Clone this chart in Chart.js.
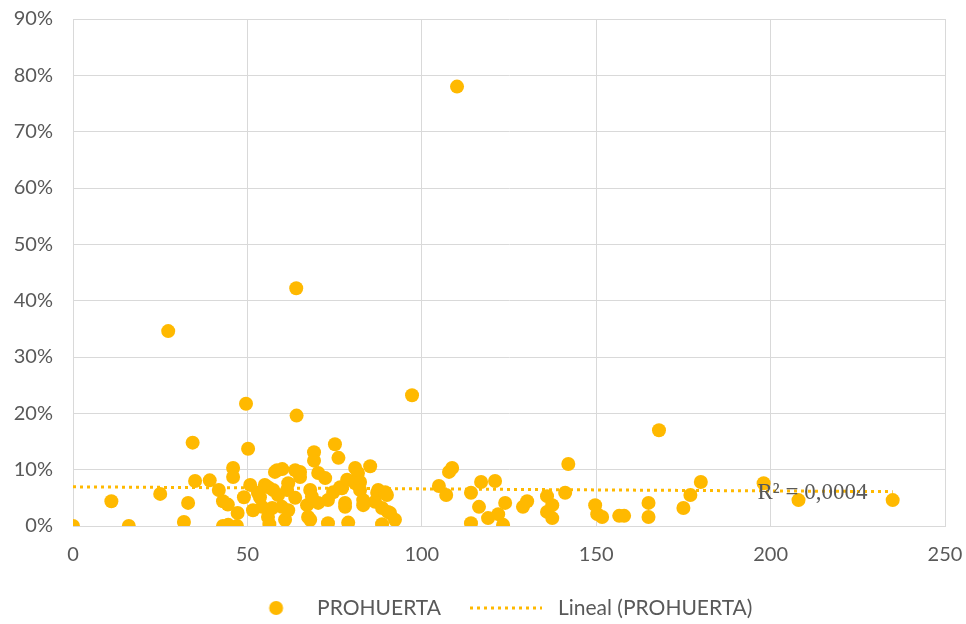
<!DOCTYPE html>
<html>
<head>
<meta charset="utf-8">
<script src="https://cdn.jsdelivr.net/npm/chart.js@4"></script>
<style>
  html, body { margin: 0; padding: 0; background: #fff; }
  #wrap { width: 966px; height: 624px; }
</style>
</head>
<body>
<div id="wrap"><canvas id="myChart"></canvas></div>
<script>
// PROHUERTA values (x, y in %)
var xs = [0, 11, 16, 25, 27.3, 31.8, 33, 34.3, 35, 39.2, 41.8, 43, 43, 44.5, 44.4, 45.9, 45.9, 47, 47.2,
  49.6, 50.2, 50.8, 49, 51.6, 53.6, 53, 54.2, 55, 55.9, 55.9, 56.3, 57.1, 57.4, 57.9, 58.5, 58.8, 59.9,
  60, 60.8, 61.4, 61.7, 61.7, 63.7, 63.7, 64, 64.1, 65.1, 65.1, 67.1, 67.4, 68, 68.5, 68, 69.1, 69.1,
  70.3, 70.3, 72.3, 73.1, 73.1, 74.6, 75.1, 76.1, 76.6, 77.1, 78, 78, 78.6, 78.9, 80.9, 80.9, 81.7,
  82.3, 82.3, 83.2, 83.2, 85.2, 86.6, 87.2, 87.5, 88.6, 88.6, 89.5, 90, 90.3, 90.9, 92.3, 97.2,
  104.9, 107, 107.8, 108.7, 110.1, 114.1, 114.1, 116.4, 117, 119, 121, 121.9, 123.3, 123.9, 129,
  130.2, 135.9, 135.9, 137.4, 137.4, 141.1, 142, 149.7, 150.3, 151.7, 156.6, 158, 165, 165, 168,
  175, 177, 180, 198, 208, 235];
var ys = [0, 4.4, 0, 5.7, 34.6, 0.7, 4.1, 14.8, 8.0, 8.1, 6.4, 4.4, 0, 0.2, 3.8, 10.3, 8.7, 0, 2.3,
  21.7, 13.7, 7.3, 5.1, 2.8, 5.1, 5.9, 3.4, 7.3, 6.9, 1.6, 0.3, 3.2, 6.4, 9.6, 9.9, 5.5, 3.4,
  10.1, 1.1, 6.4, 7.6, 2.8, 9.9, 5.0, 42.2, 19.6, 8.7, 9.6, 3.7, 1.6, 6.4, 5.2, 1.1, 13.1, 11.6,
  9.4, 4.1, 8.5, 4.6, 0.5, 6.0, 14.5, 12.1, 6.9, 6.7, 3.4, 4.1, 8.2, 0.6, 10.3, 7.6, 9.4,
  7.8, 6.4, 4.6, 3.7, 10.6, 4.3, 5.9, 6.4, 3.2, 0.3, 6.0, 5.5, 2.5, 2.3, 1.1, 23.2,
  7.1, 5.5, 9.6, 10.3, 78.0, 5.9, 0.5, 3.4, 7.8, 1.4, 8.0, 2.1, 0.2, 4.1, 3.4,
  4.4, 5.3, 2.5, 3.7, 1.4, 5.9, 11.0, 3.7, 2.1, 1.6, 1.8, 1.8, 4.1, 1.6, 17.0,
  3.2, 5.5, 7.8, 7.6, 4.6, 4.6];

// linear trend line end points
var trendX = [0, 235];
var trendY = [6.95, 6.1];
var r2Text = 'R² = 0,0004';

var xTicks = [0, 50, 100, 150, 200, 250];
var yTicks = [0, 10, 20, 30, 40, 50, 60, 70, 80, 90];

var GOLD = '#FFB900';
var GREY = '#595959';
var GRID = '#D9D9D9';

var points = xs.map(function (x, i) { return { x: x, y: ys[i] }; });
var trend = trendX.map(function (x, i) { return { x: x, y: trendY[i] }; });

// legend symbols (offset inside their canvases to sit like the Excel legend)
function dotIcon() {
    var c = document.createElement('canvas');
    c.width = 36; c.height = 16;
    var g = c.getContext('2d');
    g.fillStyle = GOLD;
    g.beginPath(); g.arc(27.5, 8, 7, 0, Math.PI * 2); g.fill();
    return c;
}
function lineIcon() {
    var c = document.createElement('canvas');
    c.width = 75; c.height = 4;
    var g = c.getContext('2d');
    g.strokeStyle = GOLD; g.lineWidth = 3;
    g.setLineDash([3, 4]);
    g.beginPath(); g.moveTo(0, 2); g.lineTo(72, 2); g.stroke();
    return c;
}
var icons = [dotIcon(), lineIcon()];

var r2Label = {
    id: 'r2Label',
    afterDatasetsDraw: function (chart) {
        var c = chart.ctx;
        c.save();
        c.font = '23px "Liberation Serif"';
        c.fillStyle = GREY;
        c.textAlign = 'center';
        c.textBaseline = 'middle';
        c.fillText(r2Text, chart.scales.x.getPixelForValue(212), chart.scales.y.getPixelForValue(5.8));
        c.restore();
    }
};

// nudge the legend row to the right, as in the original
var legendShift = {
    id: 'legendShift',
    afterLayout: function (chart) {
        chart.legend.left += 17;
        chart.legend.right += 17;
    }
};

function noOverflow(s) {
    s.paddingTop = 0; s.paddingBottom = 0; s.paddingLeft = 0; s.paddingRight = 0;
}

Chart.defaults.font.family = 'Lato';
Chart.defaults.color = GREY;

var ctx = document.getElementById('myChart').getContext('2d');
var myChart = new Chart(ctx, {
    type: 'scatter',
    data: {
        datasets: [{
            label: 'PROHUERTA',
            data: points,
            backgroundColor: GOLD,
            borderColor: GOLD,
            pointRadius: 7,
            pointHoverRadius: 7,
            borderWidth: 0
        },
        {
            label: 'Lineal (PROHUERTA)',
            type: 'line',
            data: trend,
            borderColor: GOLD,
            borderWidth: 3,
            borderDash: [3, 4],
            pointRadius: 0,
            fill: false
        }]
    },
    options: {
        responsive: true,
        maintainAspectRatio: false,
        animation: false,
        layout: { padding: { top: 19, right: 21, left: 0, bottom: -4.5 } },
        plugins: {
            tooltip: { enabled: false },
            legend: {
                position: 'bottom',
                labels: {
                    usePointStyle: true,
                    pointStyleWidth: 80,
                    padding: 26.5,
                    color: GREY,
                    font: { size: 21 },
                    generateLabels: function (chart) {
                        var items = Chart.defaults.plugins.legend.labels.generateLabels(chart);
                        items.forEach(function (it, i) { it.pointStyle = icons[i]; });
                        return items;
                    }
                }
            }
        },
        scales: {
            x: {
                type: 'linear',
                min: 0,
                max: 250,
                afterBuildTicks: function (s) { s.ticks = xTicks.map(function (v) { return { value: v }; }); },
                afterFit: function (s) {
                    noOverflow(s);
                    s.height = 624 + 4.5 - 526 - s.chart.legend.height;
                },
                grid: { color: GRID, drawTicks: false },
                border: { color: GRID },
                ticks: { padding: 17, color: GREY, font: { size: 20 } }
            },
            y: {
                min: 0,
                max: 90,
                afterBuildTicks: function (s) { s.ticks = yTicks.map(function (v) { return { value: v }; }); },
                afterFit: function (s) {
                    noOverflow(s);
                    s.width = 73;
                },
                grid: { color: GRID, drawTicks: false },
                border: { color: GRID },
                ticks: {
                    padding: 20,
                    color: GREY,
                    font: { size: 20 },
                    callback: function (v) { return v + '%'; }
                }
            }
        }
    },
    plugins: [r2Label, legendShift]
});
</script>
</body>
</html>
